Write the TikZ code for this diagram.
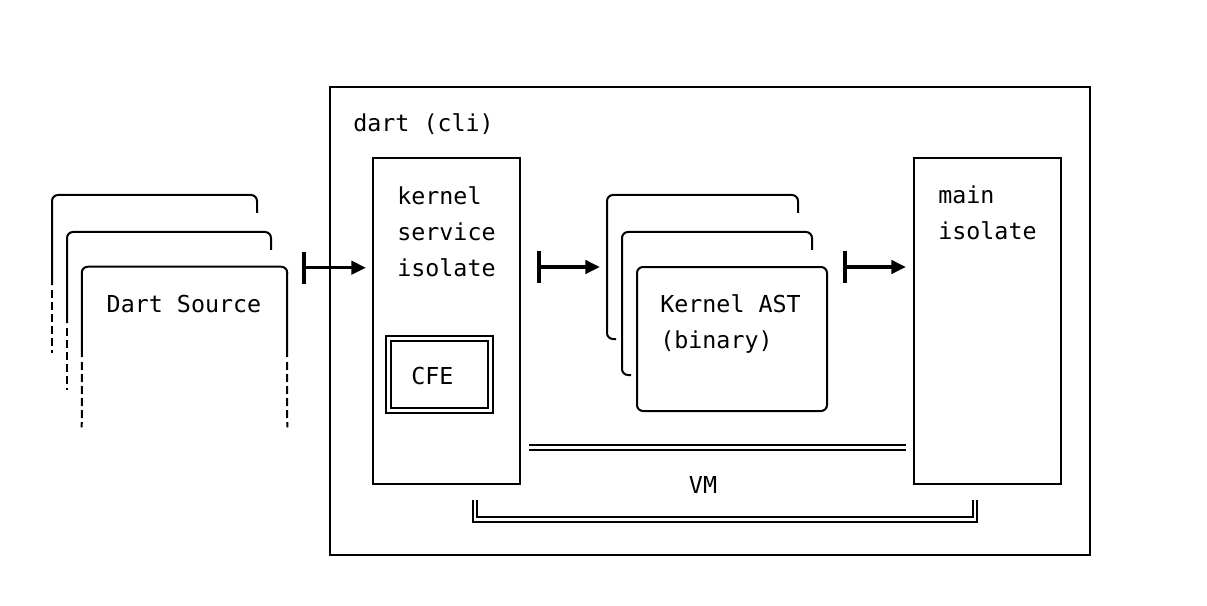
\documentclass[tikz,border=0pt]{standalone}
\usepackage{fontspec}
\setmonofont{DejaVu Sans Mono}
\usetikzlibrary{arrows.meta, positioning, fit, calc}

\begin{document}
\begin{tikzpicture}[
    x=0.75pt, y=-0.75pt,
    box/.style={draw, line width=1.5pt, inner sep=0pt},
    frame/.style={draw=none, inner sep=0pt},
    card/.style={line width=1.5pt, rounded corners=4.5pt},
    tail/.style={line width=1.5pt, dash pattern=on 6pt off 3pt},
    dbl/.style={double, line width=1.5pt, double distance=2pt},
    txt/.style={font=\ttfamily\fontsize{17.5}{27}\selectfont, inner sep=0pt, align=left},
    flow/.style={{Bar[width=24pt,line width=3pt]}-{Triangle[length=11pt,width=10pt]}, line width=2.6pt}
]
\useasboundingbox (0,0) rectangle (1207,606);

% dart (cli)
\node[box, fit={(330,87) (1090,555)}] (cli) {};
\node[txt, anchor=west] (clilbl) at (353,124) {dart (cli)};

% kernel service isolate
\node[box, fit={(373,158) (520,484)}] (ksi) {};
\node[txt, anchor=north west] (ksilbl) at (397,186) {kernel\\service\\isolate};
\node[box, dbl, fit={(388.5,338.5) (490.5,410.5)}] (cfe) {};
\node[txt, anchor=west] (cfelbl) at (411,376) {CFE};

% main isolate
\node[box, fit={(914,158) (1061,484)}] (main) {};
\node[txt, anchor=north west] (mainlbl) at (938,186) {main\\isolate};

% Dart Source stack
\coordinate (src1) at (52,195);
\draw[card] (257,213) -- (257,195) -- (src1) -- (52,285);
\draw[tail] (52,290) -- (52,353);
\draw[card] (271,250) -- (271,232) -- (67,232) -- (67,323);
\draw[tail] (67,328) -- (67,390);
\node[frame, fit={(82,267) (287,427)}] (src) {};
\draw[card] (82,357) -- (src.north west) -- (src.north east) -- (287,357);
\draw[tail] (82,362) -- (src.south west);
\draw[tail] (287,362) -- (src.south east);
\node[txt] (srclbl) at (184,304) {Dart Source};

% Kernel AST stack
\coordinate (ast1) at (607,195);
\draw[card] (798,213) -- (798,195) -- (ast1) -- (607,339) -- (616,339);
\draw[card] (812,250) -- (812,232) -- (622,232) -- (622,375) -- (631,375);
\node[box, rounded corners=4.5pt, fill=white, fit={(637,267) (827,411)}] (ast) {};
\node[txt, anchor=north west] (astlbl) at (660,294) {Kernel AST\\(binary)};

% flows
\draw[flow] ($(src.north east)+(15,1)$) -- ($(ksi.west |- src.north east)+(-6,1)$);
\draw[flow] ($(ksi.east |- ast.north)+(16,1)$) -- ($(ast1 |- ast.north)+(-7,1)$);
\draw[flow] ($(ast.north east)+(15,1)$) -- ($(main.west |- ast.north)+(-7,1)$);

% VM
\coordinate (vmy) at (0,447.5);
\draw[dbl] ($(ksi.east |- vmy)+(8,0)$) -- ($(main.west |- vmy)+(-7,0)$);
\node[txt] (vm) at (703,485) {VM};
\draw[dbl] (475,500) -- (475,519.5) -- (975,519.5) -- (975,500);

\end{tikzpicture}
\end{document}
